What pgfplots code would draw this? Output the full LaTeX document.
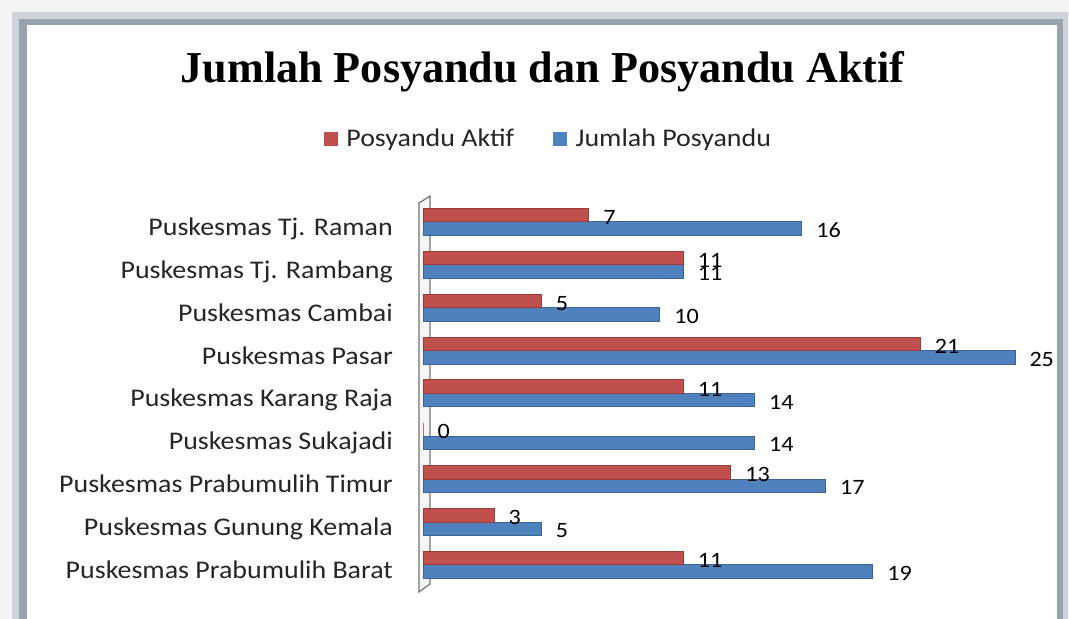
\documentclass[border=0pt]{standalone}
\usepackage{fontspec}
\usepackage{pgfplots}
\pgfplotsset{compat=1.18}
\setmainfont{Carlito}
\newfontfamily\lab[FakeStretch=1.1]{Carlito}
\newfontfamily\titlefont{Liberation Serif}
\definecolor{redA}{HTML}{C0504D}
\definecolor{redD}{HTML}{9B3B38}
\definecolor{blueA}{HTML}{4F81BD}
\definecolor{blueD}{HTML}{3A6496}
\definecolor{frameC}{HTML}{98A3AE}
\definecolor{haloC}{HTML}{CDD3D9}
\definecolor{bgC}{HTML}{F2F4F6}
\begin{document}
\begin{tikzpicture}[x=1bp,y=1bp]
\path[use as bounding box] (0,0) rectangle (1069,619);
\clip (0,0) rectangle (1069,619);
% frame
\fill[bgC] (0,0) rectangle (1069,619);
\fill[haloC] (12,-10) rectangle (1068,607);
\fill[frameC] (19,-10) rectangle (1063,600);
\fill[white] (27,-10) rectangle (1057,594);
% title
\node[anchor=base, inner sep=0pt] at (542.5,536) {\titlefont\bfseries\fontsize{44.3}{48}\selectfont Jumlah Posyandu dan Posyandu Aktif};
% 3D wall
\draw[gray!90!black, line width=1.2bp, fill=gray!8] (419,27) -- (419,416) -- (430,423) -- (430,35) -- cycle;
\begin{axis}[
  at={(423bp,28.3bp)}, anchor=south west,
  scale only axis, width=592bp, height=394.45bp,
  xmin=0, xmax=25, ymin=-0.6, ymax=8.6,
  clip=false,
  /pgf/number format/assume math mode=true,
  axis line style={draw=none},
  tick style={draw=none},
  xtick=\empty,
  ytick={0,1,2,3,4,5,6,7,8},
  yticklabels={Puskesmas Prabumulih Barat, Puskesmas Gunung Kemala, Puskesmas Prabumulih Timur, Puskesmas Sukajadi, Puskesmas Karang Raja, Puskesmas Pasar, Puskesmas Cambai, Puskesmas Tj. Rambang, Puskesmas Tj. Raman},
  yticklabel style={font=\lab\fontsize{25.5}{28}\selectfont, text=black!85, anchor=base east, inner sep=0pt, xshift=-30bp, yshift=-13.5bp},
  legend columns=2,
  legend style={at={(axis description cs:0.2103,1.1464)}, anchor=center, draw=none, fill=none,
    font=\lab\fontsize{25.5}{28}\selectfont, text=black!85,
    nodes={inner sep=0pt}, column sep=9bp,
    /tikz/every even column/.append style={column sep=39bp}},
  nodes near coords,
  point meta=x,
  nodes near coords style={font=\lab\fontsize{22}{24}\selectfont, text=black, anchor=west, inner sep=0pt, xshift=14bp},
]
\addlegendimage{legend image code/.code={\fill[redA] (0bp,-6.5bp) rectangle (13bp,6.5bp);}}
\addlegendentry{Posyandu Aktif}
\addlegendimage{legend image code/.code={\fill[blueA] (0bp,-6.5bp) rectangle (13bp,6.5bp);}}
\addlegendentry{Jumlah Posyandu}
% Jumlah Posyandu (blue, lower bar)
\addplot[forget plot, xbar, bar width=13.5bp, bar shift=-6.75bp, fill=blueA, draw=blueD, line width=1bp,
  nodes near coords style={yshift=-8.5bp}] coordinates {
 (19,0) (5,1) (17,2) (14,3) (14,4) (25,5) (10,6) (11,7) (16,8)};
% Posyandu Aktif (red, upper bar)
\addplot[forget plot, xbar, bar width=13.5bp, bar shift=6.75bp, fill=redA, draw=redD, line width=1bp,
  nodes near coords style={yshift=4.5bp}] coordinates {
 (11,0) (3,1) (13,2) (0,3) (11,4) (21,5) (5,6) (11,7) (7,8)};
\end{axis}
\end{tikzpicture}
\end{document}
